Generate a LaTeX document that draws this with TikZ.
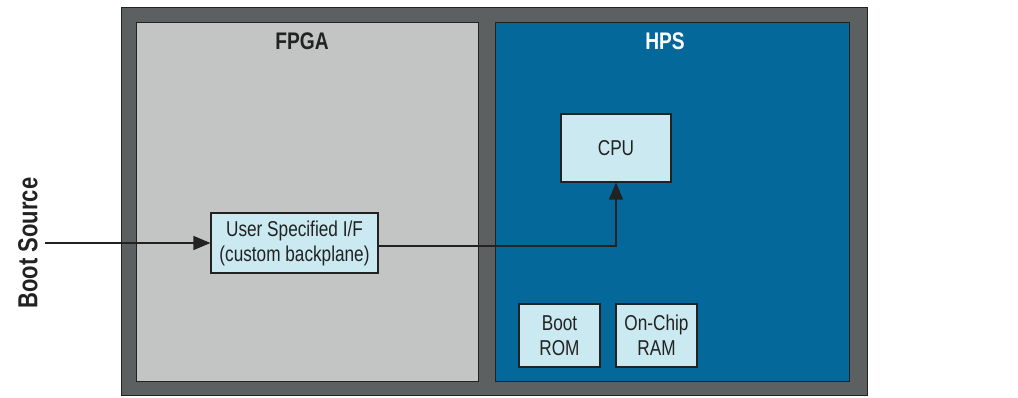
\documentclass[tikz,border=0pt]{standalone}
\usepackage{fontspec}
\setmainfont{Liberation Sans}[FakeStretch=0.8]
\usetikzlibrary{arrows.meta,calc}
\definecolor{frame}{HTML}{5C6061}
\definecolor{fpgagray}{HTML}{C3C4C4}
\definecolor{hpsblue}{HTML}{04699A}
\definecolor{boxcyan}{HTML}{CBE9F0}
\definecolor{edge}{HTML}{222222}
\tikzset{
  panel/.style={draw=edge, line width=0.8pt, inner sep=0pt},
  block/.style={draw=edge, line width=1.1pt, fill=boxcyan, inner sep=0pt, align=center,
    font=\fontsize{21.5}{25}\selectfont, text=edge},
  title/.style={font=\fontsize{24}{28}\selectfont\bfseries},
  link/.style={draw=edge, line width=1.2pt, -{Triangle[length=17pt,width=14pt]}}
}
\begin{document}
\begin{tikzpicture}[x=1pt,y=-1pt]
\useasboundingbox (0,0) rectangle (1018,398);
% chip outline and the two regions
\node[panel, fill=frame, minimum width=746, minimum height=388] (chip) at (494,201) {};
\node[panel, fill=fpgagray, minimum width=342, minimum height=359] (fpga) at (307,201.5) {};
\node[panel, fill=hpsblue, minimum width=354, minimum height=359] (hps) at (672,201.5) {};
\node[title, text=edge] (fpgalbl) at (302,41) {FPGA};
\node[title, text=white] (hpslbl) at (665,41) {HPS};
% functional blocks
\node[block, minimum width=167, minimum height=60] (usr) at (294.5,243) {User Specified I/F\\(custom backplane)};
\node[block, minimum width=110, minimum height=68] (cpu) at (616,148) {CPU};
\node[block, minimum width=81, minimum height=63] (rom) at (559.5,335.5) {Boot\\ROM};
\node[block, minimum width=81, minimum height=63] (ram) at (656.5,335.5) {On-Chip\\RAM};
% boot source input
\node[rotate=90, font=\fontsize{27.5}{30}\selectfont\bfseries, text=edge] (src) at (28,243) {Boot Source};
\coordinate (srcend) at (45,243);
\draw[link] (srcend) -- (usr.west);
\draw[link] ($(usr.east)+(0,3)$) -| (cpu.south);
\end{tikzpicture}
\end{document}
